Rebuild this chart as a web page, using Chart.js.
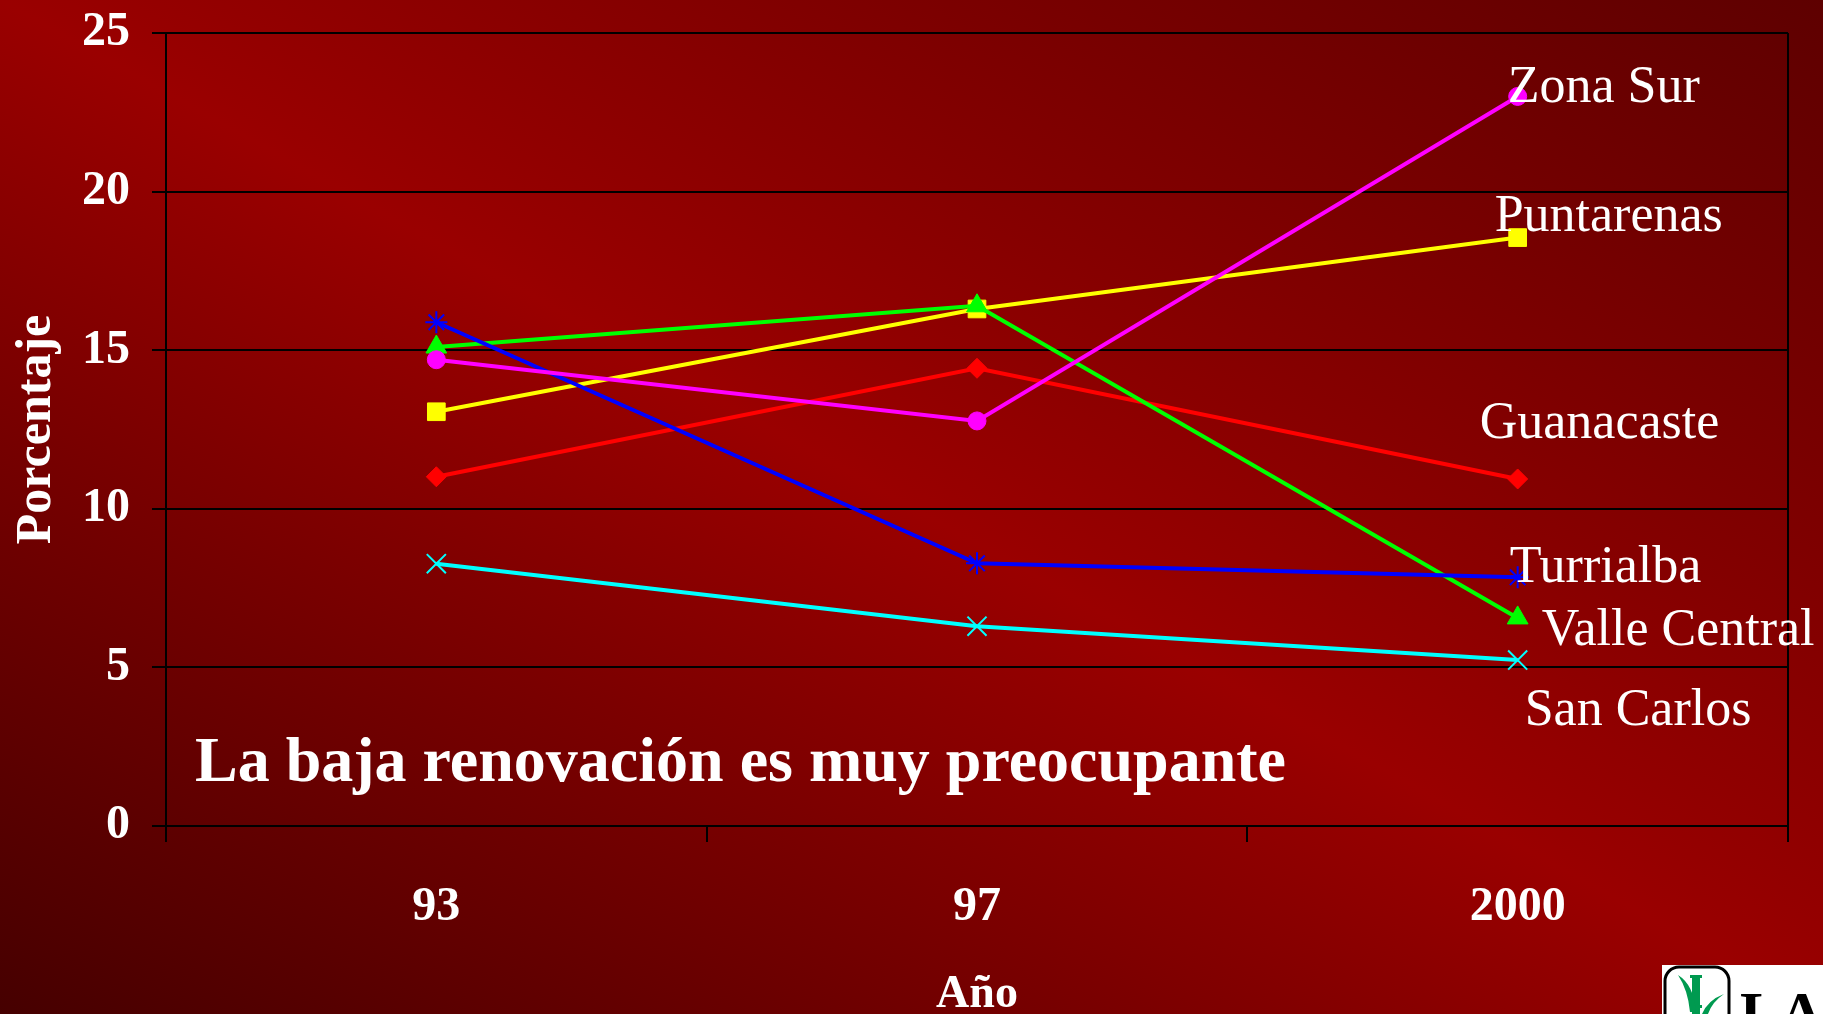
<!DOCTYPE html>
<html>
<head>
<meta charset="utf-8">
<script src="https://cdn.jsdelivr.net/npm/chart.js@4.4.1/dist/chart.umd.min.js"></script>
<style>
html, body { margin: 0; padding: 0; }
body {
    width: 1823px;
    height: 1014px;
    overflow: hidden;
    background: linear-gradient(to top right, #460000 0%, #9a0000 50%, #5e0000 100%);
}
canvas { display: block; }
</style>
</head>
<body>
<canvas id="chart" width="1823" height="1014"></canvas>
<script>
// ===== Data =====
const years = ["93", "97", "2000"];
const zonaSur = [14.7, 12.77, 23.0];
const turrialba = [15.88, 8.28, 7.84];
const sanCarlos = [8.27, 6.3, 5.23];
const valleCentral = [15.1, 16.4, 6.56];
const puntarenas = [13.06, 16.3, 18.55];
const guanacaste = [11.01, 14.43, 10.94];
const yTicks = [0, 5, 10, 15, 20, 25];

const SERIF = '"Liberation Serif", "Times New Roman", serif';

// label placement relative to the 2000 point
const labelOffsets = {
    "Zona Sur": [-10, 6],
    "Puntarenas": [-23, -7],
    "Guanacaste": [-38, -41],
    "Turrialba": [-8, 5],
    "Valle Central": [24, 27],
    "San Carlos": [7, 65]
};

function series(label, data, color, style, radius, bw) {
    return {
        label: label,
        data: data,
        borderColor: color,
        backgroundColor: color,
        borderWidth: 4,
        pointStyle: style,
        pointRadius: radius,
        pointHoverRadius: radius,
        pointBorderWidth: bw,
        pointBorderColor: color,
        pointBackgroundColor: color,
        tension: 0
    };
}

// first dataset is drawn on top
const datasets = [
    series("Zona Sur", zonaSur, "#ff00ff", "circle", 9, 1),
    series("Turrialba", turrialba, "#0000ff", "star", 11, 2),
    series("San Carlos", sanCarlos, "#00ffff", "crossRot", 13.5, 2),
    series("Valle Central", valleCentral, "#00ff00", "triangle", 12, 1),
    series("Puntarenas", puntarenas, "#ffff00", "rect", 12.5, 1),
    series("Guanacaste", guanacaste, "#ff0000", "rectRot", 10, 1)
];

// ===== Text, border and logo =====
const extras = {
    id: "extras",
    afterDatasetsDraw(chart) {
        const ctx = chart.ctx;
        const area = chart.chartArea;
        ctx.save();

        // right border of the plot
        ctx.strokeStyle = "#000";
        ctx.lineWidth = 2;
        ctx.beginPath();
        ctx.moveTo(area.right, area.top);
        ctx.lineTo(area.right, area.bottom);
        ctx.stroke();

        // series names next to the last point
        ctx.fillStyle = "#fff";
        ctx.font = "52px " + SERIF;
        ctx.textAlign = "left";
        ctx.textBaseline = "alphabetic";
        chart.data.datasets.forEach((ds, i) => {
            const pt = chart.getDatasetMeta(i).data[2];
            const off = labelOffsets[ds.label];
            ctx.fillText(ds.label, pt.x + off[0], pt.y + off[1]);
        });

        // note
        ctx.font = "bold 64px " + SERIF;
        ctx.fillText("La baja renovación es muy preocupante", area.left + 29, 781);
        ctx.restore();
    },
    afterDraw(chart) {
        const ctx = chart.ctx;
        ctx.save();
        // logo box, cut by the page edge
        ctx.fillStyle = "#fff";
        ctx.fillRect(1662, 965, 161, 49);
        ctx.strokeStyle = "#000";
        ctx.lineWidth = 3;
        ctx.beginPath();
        ctx.roundRect(1665, 967, 64, 70, 14);
        ctx.stroke();
        // cane leaves
        ctx.fillStyle = "#009a50";
        ctx.fillRect(1692, 976, 8, 40);
        ctx.fillRect(1690, 975, 12, 3);
        ctx.fillRect(1690, 1005, 12, 3);
        ctx.beginPath();
        ctx.moveTo(1678, 975);
        ctx.quadraticCurveTo(1694, 985, 1696, 1012);
        ctx.lineTo(1690, 1012);
        ctx.quadraticCurveTo(1688, 990, 1678, 975);
        ctx.fill();
        ctx.beginPath();
        ctx.moveTo(1724, 994);
        ctx.quadraticCurveTo(1708, 1000, 1702, 1014);
        ctx.lineTo(1708, 1014);
        ctx.quadraticCurveTo(1712, 1002, 1724, 994);
        ctx.fill();
        ctx.fillStyle = "#000";
        ctx.font = "bold 60px " + SERIF;
        ctx.textAlign = "left";
        ctx.fillText("LAICA", 1740, 1033);
        ctx.restore();
    }
};

// ===== Chart =====
new Chart(document.getElementById("chart"), {
    type: "line",
    data: { labels: years, datasets: datasets },
    options: {
        responsive: false,
        animation: false,
        events: [],
        layout: { padding: { top: 33, right: 35, left: 0, bottom: 0 } },
        plugins: {
            legend: { display: false },
            tooltip: { enabled: false }
        },
        scales: {
            x: {
                offset: true,
                grid: {
                    offset: true,
                    drawOnChartArea: false,
                    tickLength: 16,
                    color: "#000",
                    tickColor: "#000",
                    lineWidth: 2
                },
                border: { color: "#000", width: 2 },
                ticks: {
                    color: "#fff",
                    padding: 37,
                    font: { family: SERIF, size: 48, weight: "bold" }
                },
                title: {
                    display: true,
                    text: "Año",
                    color: "#fff",
                    padding: { top: 0, bottom: 0 },
                    font: { family: SERIF, size: 46, weight: "bold", lineHeight: 0.8 }
                },
                afterFit(scale) {
                    scale.height = 188;
                    scale.paddingLeft = 0;
                    scale.paddingRight = 0;
                }
            },
            y: {
                min: 0,
                max: 25,
                afterBuildTicks(scale) {
                    scale.ticks = yTicks.map(v => ({ value: v }));
                },
                grid: {
                    color: "#000",
                    lineWidth: 2,
                    tickLength: 14
                },
                border: { color: "#000", width: 2 },
                ticks: {
                    color: "#fff",
                    padding: 22,
                    font: { family: SERIF, size: 48, weight: "bold" }
                },
                title: {
                    display: true,
                    text: "Porcentaje",
                    color: "#fff",
                    padding: { top: 7, bottom: 0 },
                    font: { family: SERIF, size: 50, weight: "bold" }
                },
                afterFit(scale) {
                    scale.width = 166;
                    scale.paddingTop = 0;
                    scale.paddingBottom = 0;
                }
            }
        }
    },
    plugins: [extras]
});
</script>
</body>
</html>
